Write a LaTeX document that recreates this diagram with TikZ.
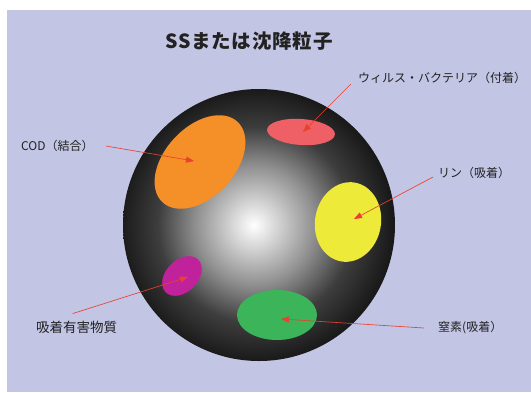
\documentclass[tikz,border=0pt]{standalone}
\usepackage{fontspec}
\usepackage{xcolor}
\usetikzlibrary{arrows.meta,shapes.geometric}
\newfontfamily\jpfont{Noto Sans CJK JP}
\newfontfamily\jptitle[LetterSpace=4]{Noto Sans CJK JP}
\definecolor{backdrop}{HTML}{C3C5E5}
\definecolor{pointer}{HTML}{E8412F}
\definecolor{cod}{HTML}{F58F28}
\definecolor{virus}{HTML}{EE5F66}
\definecolor{phos}{HTML}{EEEA3A}
\definecolor{toxic}{HTML}{C0229C}
\definecolor{nitro}{HTML}{3CB45A}
\definecolor{ink}{HTML}{222222}
% grey sphere, bright spot slightly left of centre
\pgfdeclareradialshading{particle}{\pgfpoint{-1bp}{0bp}}{%
	color(0bp)=(white); color(2bp)=(white!92!black);
	color(11bp)=(black!44); color(18bp)=(black!76);
	color(25bp)=(black!90); color(50bp)=(black!90)}

\begin{document}
\begin{tikzpicture}[x=1pt, y=-1pt,
	blob/.style={ellipse, inner sep=0pt},
	tag/.style={inner sep=0pt, text=ink, font=\jpfont\fontsize{12}{12}\selectfont},
	pointer/.style={draw=pointer, line width=.65pt, -{Triangle[length=8pt,width=6pt]}}]
	\useasboundingbox (0,0) rectangle (531,392);
	\fill[white] (0,0) rectangle (531,392);
	\fill[backdrop] (7,10) rectangle (531,392);

	\node[text=ink, font=\jptitle\bfseries\fontsize{19.5}{19.5}\selectfont] (title) at (249,41) {SSまたは沈降粒子};

	% the particle
	\node[circle, minimum size=272pt, inner sep=0pt, shading=particle] (particle) at (259,225) {};

	% spots on the surface
	\node[blob, fill=cod, minimum width=110pt, minimum height=70pt, rotate=47] (cod) at (200,162) {};
	\node[blob, fill=virus, minimum width=68pt, minimum height=26pt, rotate=-4] (virus) at (301,132) {};
	\node[blob, fill=phos, minimum width=80pt, minimum height=66pt, rotate=80] (phos) at (348,222) {};
	\node[blob, fill=toxic, minimum width=46pt, minimum height=32pt, rotate=45] (toxic) at (182,276) {};
	\node[blob, fill=nitro, minimum width=80pt, minimum height=50pt] (nitro) at (277,315) {};

	% labels
	\node[tag, anchor=west] (cod label) at (21,146) {COD（結合）};
	\node[tag, anchor=west] (virus label) at (358,78) {ウィルス・バクテリア（付着）};
	\node[tag, anchor=west] (phos label) at (438,173) {リン（吸着）};
	\node[tag, anchor=west] (nitro label) at (438,328) {窒素(吸着）};
	\node[tag, anchor=west, font=\jpfont\fontsize{13.5}{13.5}\selectfont] (toxic label) at (36,327) {吸着有害物質};

	% arrow tips
	\coordinate (cod tip) at (194,161);
	\coordinate (virus tip) at (303,132);
	\coordinate (phos tip) at (354,219);
	\coordinate (toxic tip) at (188,277);
	\coordinate (nitro tip) at (281,319);

	\draw[pointer] ([xshift=12pt]cod label.east) -- (cod tip);
	\draw[pointer] ([shift={(-7,6)}]virus label.west) -- (virus tip);
	\draw[pointer] ([shift={(-5,4)}]phos label.west) -- (phos tip);
	\draw[pointer] ([xshift=-14pt]nitro label.west) -- (nitro tip);
	\draw[pointer] ([shift={(-4,-7)}]toxic label.north) -- (toxic tip);
\end{tikzpicture}
\end{document}
